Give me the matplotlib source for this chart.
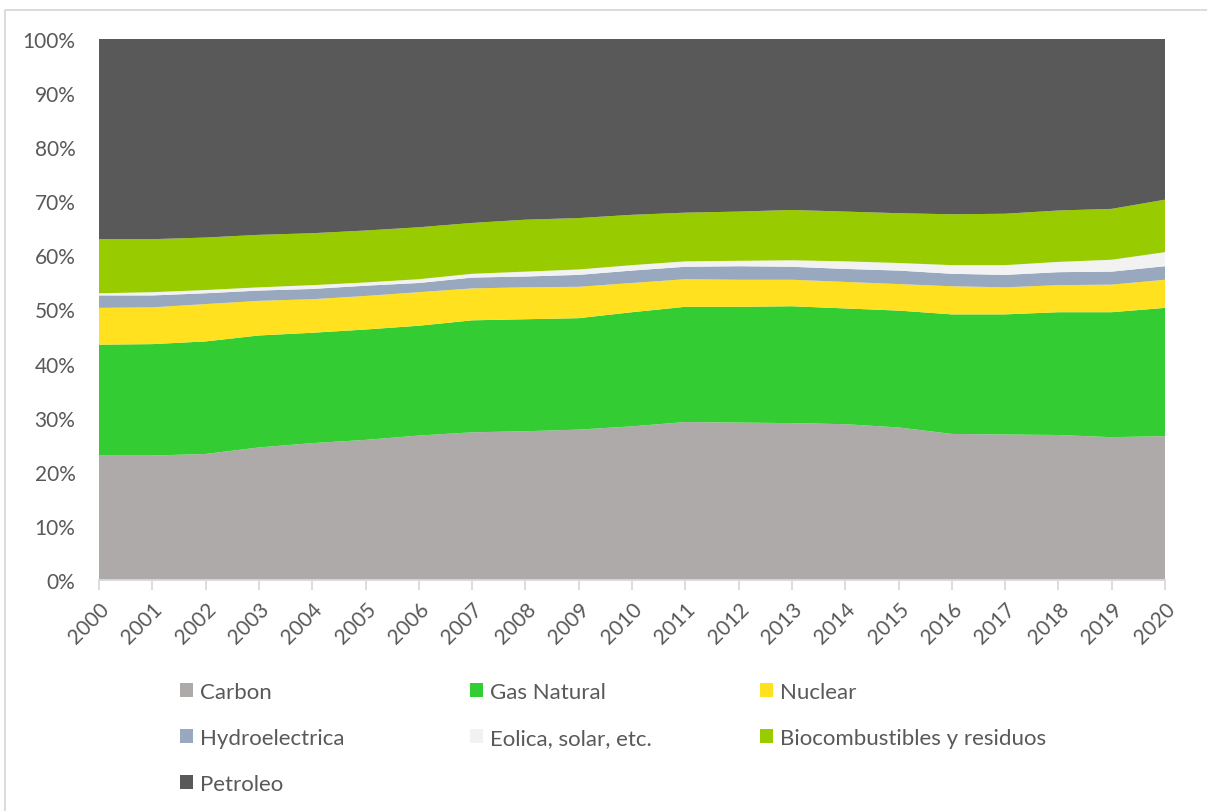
import matplotlib.pyplot as plt
from matplotlib.patches import Patch, Rectangle

plt.rcParams['font.family'] = ['Lato', 'DejaVu Sans']

years = list(range(2000, 2021))
carbon = [23.0, 23.0, 23.3, 24.5, 25.3, 25.9, 26.7, 27.3, 27.5, 27.8, 28.4,
          29.2, 29.1, 29.0, 28.8, 28.2, 27.0, 26.9, 26.8, 26.4, 26.6]
gas = [20.5, 20.6, 20.8, 20.7, 20.4, 20.4, 20.3, 20.7, 20.7, 20.6, 21.1,
       21.3, 21.4, 21.6, 21.4, 21.6, 22.1, 22.2, 22.7, 23.1, 23.7]
nuclear = [6.8, 6.8, 6.9, 6.4, 6.2, 6.2, 6.2, 5.9, 5.9, 5.8, 5.4,
           5.1, 5.0, 4.9, 4.9, 4.9, 5.2, 5.0, 5.0, 5.1, 5.2]
hydro = [2.3, 2.2, 2.0, 1.9, 1.9, 1.9, 1.7, 2.0, 2.0, 2.2, 2.3,
         2.3, 2.5, 2.4, 2.4, 2.5, 2.3, 2.3, 2.4, 2.4, 2.5]
eolica = [0.4, 0.6, 0.6, 0.6, 0.7, 0.6, 0.7, 0.7, 0.9, 1.0, 1.0,
          1.0, 1.0, 1.2, 1.4, 1.4, 1.6, 1.8, 1.9, 2.2, 2.6]
bio = [10.0, 9.8, 9.7, 9.7, 9.6, 9.6, 9.6, 9.4, 9.6, 9.5, 9.3,
       9.0, 9.1, 9.3, 9.2, 9.2, 9.4, 9.5, 9.5, 9.4, 9.7]
petroleo = [37.0, 37.0, 36.7, 36.2, 35.9, 35.4, 34.8, 34.0, 33.4, 33.1, 32.5,
            32.1, 31.9, 31.6, 31.9, 32.2, 32.4, 32.3, 31.7, 31.4, 29.7]

labels = ["Carbon", "Gas Natural", "Nuclear", "Hydroelectrica",
          "Eolica, solar, etc.", "Biocombustibles y residuos", "Petroleo"]
colors = ["#AEAAAA", "#33CC33", "#FFE11F", "#98A8BE", "#F2F2F2", "#99CC00", "#595959"]
series = [carbon, gas, nuclear, hydro, eolica, bio, petroleo]

fig = plt.figure(figsize=(12.07, 8.12), dpi=100)
ax = fig.add_axes([99 / 1207, 1 - 581 / 812, (1165 - 99) / 1207, (581 - 40) / 812])

# normalise each year to 100%
tot = [sum(v) for v in zip(*series)]
norm = [[100 * a / t for a, t in zip(s, tot)] for s in series]
ax.stackplot(years, *norm, colors=colors, linewidth=0)

ax.set_xlim(2000, 2020)
ax.set_ylim(0, 100)
ax.set_yticks(range(0, 101, 10))
ax.set_yticklabels([f"{v}%" for v in range(0, 101, 10)])
ax.set_xticks(years)
ax.set_xticklabels([str(y) for y in years], rotation=45, ha='right',
                   rotation_mode='anchor')
ax.tick_params(axis='y', length=0, pad=17, labelsize=15, labelcolor='#595959')
ax.tick_params(axis='x', length=7, color='#D9D9D9', width=1.3, pad=6,
               labelsize=15, labelcolor='#595959')
for s in ['top', 'right', 'left']:
    ax.spines[s].set_visible(False)
ax.spines['bottom'].set_color('#D9D9D9')
ax.spines['bottom'].set_linewidth(1.3)

# chart border
fig.patches.append(Rectangle((5 / 1207, -0.1), 1.2, 1 - 11 / 812 + 0.1,
                             transform=fig.transFigure, fill=False,
                             edgecolor='#D9D9D9', linewidth=1.3))

handles = [Patch(facecolor=c) for c in colors]
cols = [[0, 3, 6], [1, 4], [2, 5]]
xs = [180, 470, 760]
for idx, x in zip(cols, xs):
    leg = fig.legend([handles[i] for i in idx], [labels[i] for i in idx],
                     loc='upper left', bbox_to_anchor=(x / 1207, 1 - 683 / 812),
                     frameon=False, fontsize=16, labelcolor='#595959',
                     handlelength=0.6, handleheight=0.6, handletextpad=0.3,
                     labelspacing=1.16, borderaxespad=0, borderpad=0)

fig.savefig("out.png", dpi=100)
